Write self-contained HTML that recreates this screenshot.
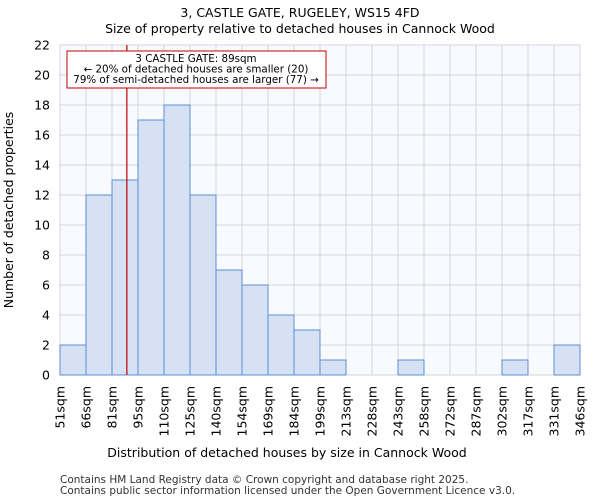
<!DOCTYPE html>
<html><head><meta charset="utf-8"><style>
body{margin:0;background:#fff;font-family:"DejaVu Sans","Liberation Sans",sans-serif}
</style></head><body>
<svg width="600" height="500" xmlns="http://www.w3.org/2000/svg" font-family="DejaVu Sans, Liberation Sans, sans-serif">
<text x="300" y="17" text-anchor="middle" font-size="12.5">3, CASTLE GATE, RUGELEY, WS15 4FD</text>
<text x="300" y="33" text-anchor="middle" font-size="12.5">Size of property relative to detached houses in Cannock Wood</text>
<rect x="60" y="45" width="520" height="330" fill="#f8faff"/>
<g id="grid"></g><g id="bars"></g><g id="axes"></g>
<text x="287" y="457" text-anchor="middle" font-size="12.5">Distribution of detached houses by size in Cannock Wood</text>
<text transform="translate(13,210) rotate(-90)" text-anchor="middle" font-size="12.5">Number of detached properties</text>
<text x="60" y="483" font-size="10.5" fill="#333">Contains HM Land Registry data © Crown copyright and database right 2025.</text>
<text x="60" y="494" font-size="10.5" fill="#333">Contains public sector information licensed under the Open Government Licence v3.0.</text>
</svg>
<script>
const binLabels=["51sqm","66sqm","81sqm","95sqm","110sqm","125sqm","140sqm","154sqm","169sqm","184sqm","199sqm","213sqm","228sqm","243sqm","258sqm","272sqm","287sqm","302sqm","317sqm","331sqm","346sqm"];
const counts=[2,12,13,17,18,12,7,6,4,3,1,0,0,1,0,0,0,1,0,2];
const yTicks=[0,2,4,6,8,10,12,14,16,18,20,22];
const propertyBinPos=2+8/14;
const NS="http://www.w3.org/2000/svg";
const X0=60,X1=580,Y0=375,Y1=45,YMAX=22;
const bw=(X1-X0)/counts.length;
const xs=i=>X0+i*bw, ys=v=>Y0-(v/YMAX)*(Y0-Y1);
function mk(t,a,p){const e=document.createElementNS(NS,t);for(const k in a)e.setAttribute(k,a[k]);p.appendChild(e);return e;}
const grid=document.getElementById('grid'),bars=document.getElementById('bars'),axes=document.getElementById('axes');
binLabels.forEach((l,i)=>{const g=mk('line',{x1:xs(i),x2:xs(i),y1:Y1,y2:Y0,stroke:'#d6d6d6'},grid);


const t=mk('text',{transform:`translate(${xs(i)+4.5},386) rotate(-90)`,'text-anchor':'end','font-size':'12.5'},axes);t.textContent=l;

});
yTicks.forEach(v=>{const g=mk('line',{x1:X0,x2:X1,y1:ys(v),y2:ys(v),stroke:'#d6d6d6'},grid);


const t=mk('text',{x:50,y:ys(v)+4.5,'text-anchor':'end','font-size':'12.5'},axes);t.textContent=v;

});
counts.forEach((c,i)=>{if(c<=0)return;const r=mk('rect',{x:xs(i),y:ys(c),width:bw,height:Y0-ys(c),fill:'#d6e1f3',stroke:'#5b8fd6','stroke-width':1},bars);

});
const px=xs(propertyBinPos);
const pl=mk('line',{x1:px,x2:px,y1:Y1,y2:Y0,stroke:'#c00000','stroke-width':1.2},axes);


const box=mk('rect',{x:67,y:51,width:259,height:37,fill:'#fff',stroke:'#c00000'},axes);


["3 CASTLE GATE: 89sqm","← 20% of detached houses are smaller (20)","79% of semi-detached houses are larger (77) →"].forEach((s,i)=>{
const t=mk('text',{x:196,y:62+i*10.5,'text-anchor':'middle','font-size':'10.3'},axes);t.textContent=s;

});
</script>
</body></html>
